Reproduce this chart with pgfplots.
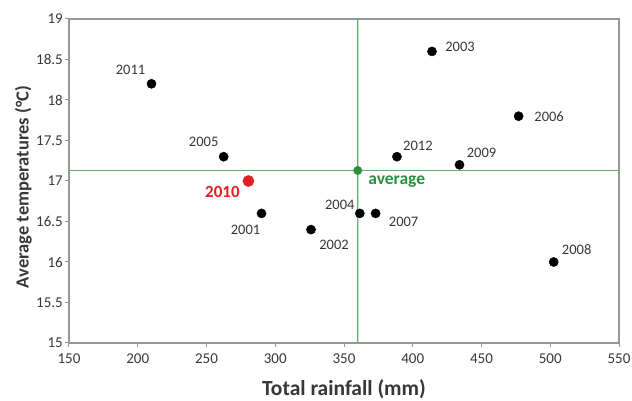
\documentclass[border=0pt]{standalone}
\usepackage{pgfplots}
\pgfplotsset{compat=1.18}
\usepackage{fontspec}
\setmainfont{Carlito}
\usetikzlibrary{calc}
\definecolor{gline}{RGB}{100,175,110}
\definecolor{gpt}{RGB}{40,145,60}
\definecolor{rpt}{RGB}{225,30,35}
\definecolor{axframe}{RGB}{150,150,150}
\definecolor{txt}{RGB}{55,55,55}
\begin{document}
\begin{tikzpicture}
\begin{axis}[
  scale only axis, width=550pt, height=324pt,
  xmin=150, xmax=550, ymin=15, ymax=19,
  xtick={150,200,...,550}, ytick={15,15.5,...,19},
  axis line style={draw=axframe, line width=1.4pt},
  tick style={draw=axframe, line width=1pt},
  tick align=outside, major tick length=4pt,
  xtick pos=bottom, ytick pos=left,
  /pgf/number format/assume math mode=true,
  /pgf/number format/fixed,
  ticklabel style={font=\fontsize{15}{17}\selectfont, text=txt},
  xticklabel style={inner sep=2pt, yshift=-5pt},
  yticklabel style={inner sep=2pt},
  xlabel={\textbf{Total rainfall (mm)}},
  ylabel={\textbf{Average temperatures (°C)}},
  xlabel style={font=\fontsize{21.5}{24}\selectfont, text=txt, yshift=-10pt},
  ylabel style={font=\fontsize{18.5}{21}\selectfont, text=txt, yshift=-1pt, xshift=-6pt},
  clip=false,
]
\addplot[draw=gline, line width=1.3pt, mark=none] coordinates {(150,17.13) (550,17.13)};
\addplot[fill=gline, draw=none, mark=none] coordinates {(359.52,15) (360.48,15) (360.48,19) (359.52,19)} \closedcycle;
\addplot[only marks, mark=*, mark size=4.6pt, black] coordinates {
 (210,18.2) (262.5,17.3) (290,16.6) (326,16.4) (361.5,16.6) (373,16.6)
 (502.5,16.0) (414,18.6) (477,17.8) (388.5,17.3) (434,17.2)};
\addplot[only marks, mark=*, mark size=5.6pt, rpt, mark options={draw=rpt,fill=rpt}] coordinates {(280.5,17.0)};
\addplot[only marks, mark=*, mark size=4.2pt, gpt, mark options={draw=gpt,fill=gpt}] coordinates {(360,17.13)};
\begin{scope}[every node/.style={font=\fontsize{14.5}{16}\selectfont, text=txt}]
\node at ($(axis cs:210,18.2)+(-21pt,14pt)$) {2011};
\node at ($(axis cs:262.5,17.3)+(-20pt,15pt)$) {2005};
\node at ($(axis cs:290,16.6)+(-16pt,-16pt)$) {2001};
\node at ($(axis cs:326,16.4)+(23pt,-15pt)$) {2002};
\node at ($(axis cs:361.5,16.6)+(-20pt,9pt)$) {2004};
\node at ($(axis cs:373,16.6)+(28pt,-8pt)$) {2007};
\node at ($(axis cs:502.5,16.0)+(23pt,12pt)$) {2008};
\node at ($(axis cs:414,18.6)+(28pt,5pt)$) {2003};
\node at ($(axis cs:477,17.8)+(30.5pt,0pt)$) {2006};
\node at ($(axis cs:388.5,17.3)+(21pt,11pt)$) {2012};
\node at ($(axis cs:434,17.2)+(22pt,12pt)$) {2009};
\end{scope}
\node[font=\fontsize{17}{19}\selectfont\bfseries, text=rpt] at ($(axis cs:280.5,17.0)+(-26pt,-11pt)$) {2010};
\node[font=\fontsize{17.5}{19}\selectfont\bfseries, text=gpt] at ($(axis cs:360,17.13)+(39pt,-11pt)$) {average};
\end{axis}
\pgfresetboundingbox
\path ($(current axis.south west)+(-69pt,-58pt)$) rectangle ($(current axis.north east)+(13pt,19pt)$);
\end{tikzpicture}
\end{document}
